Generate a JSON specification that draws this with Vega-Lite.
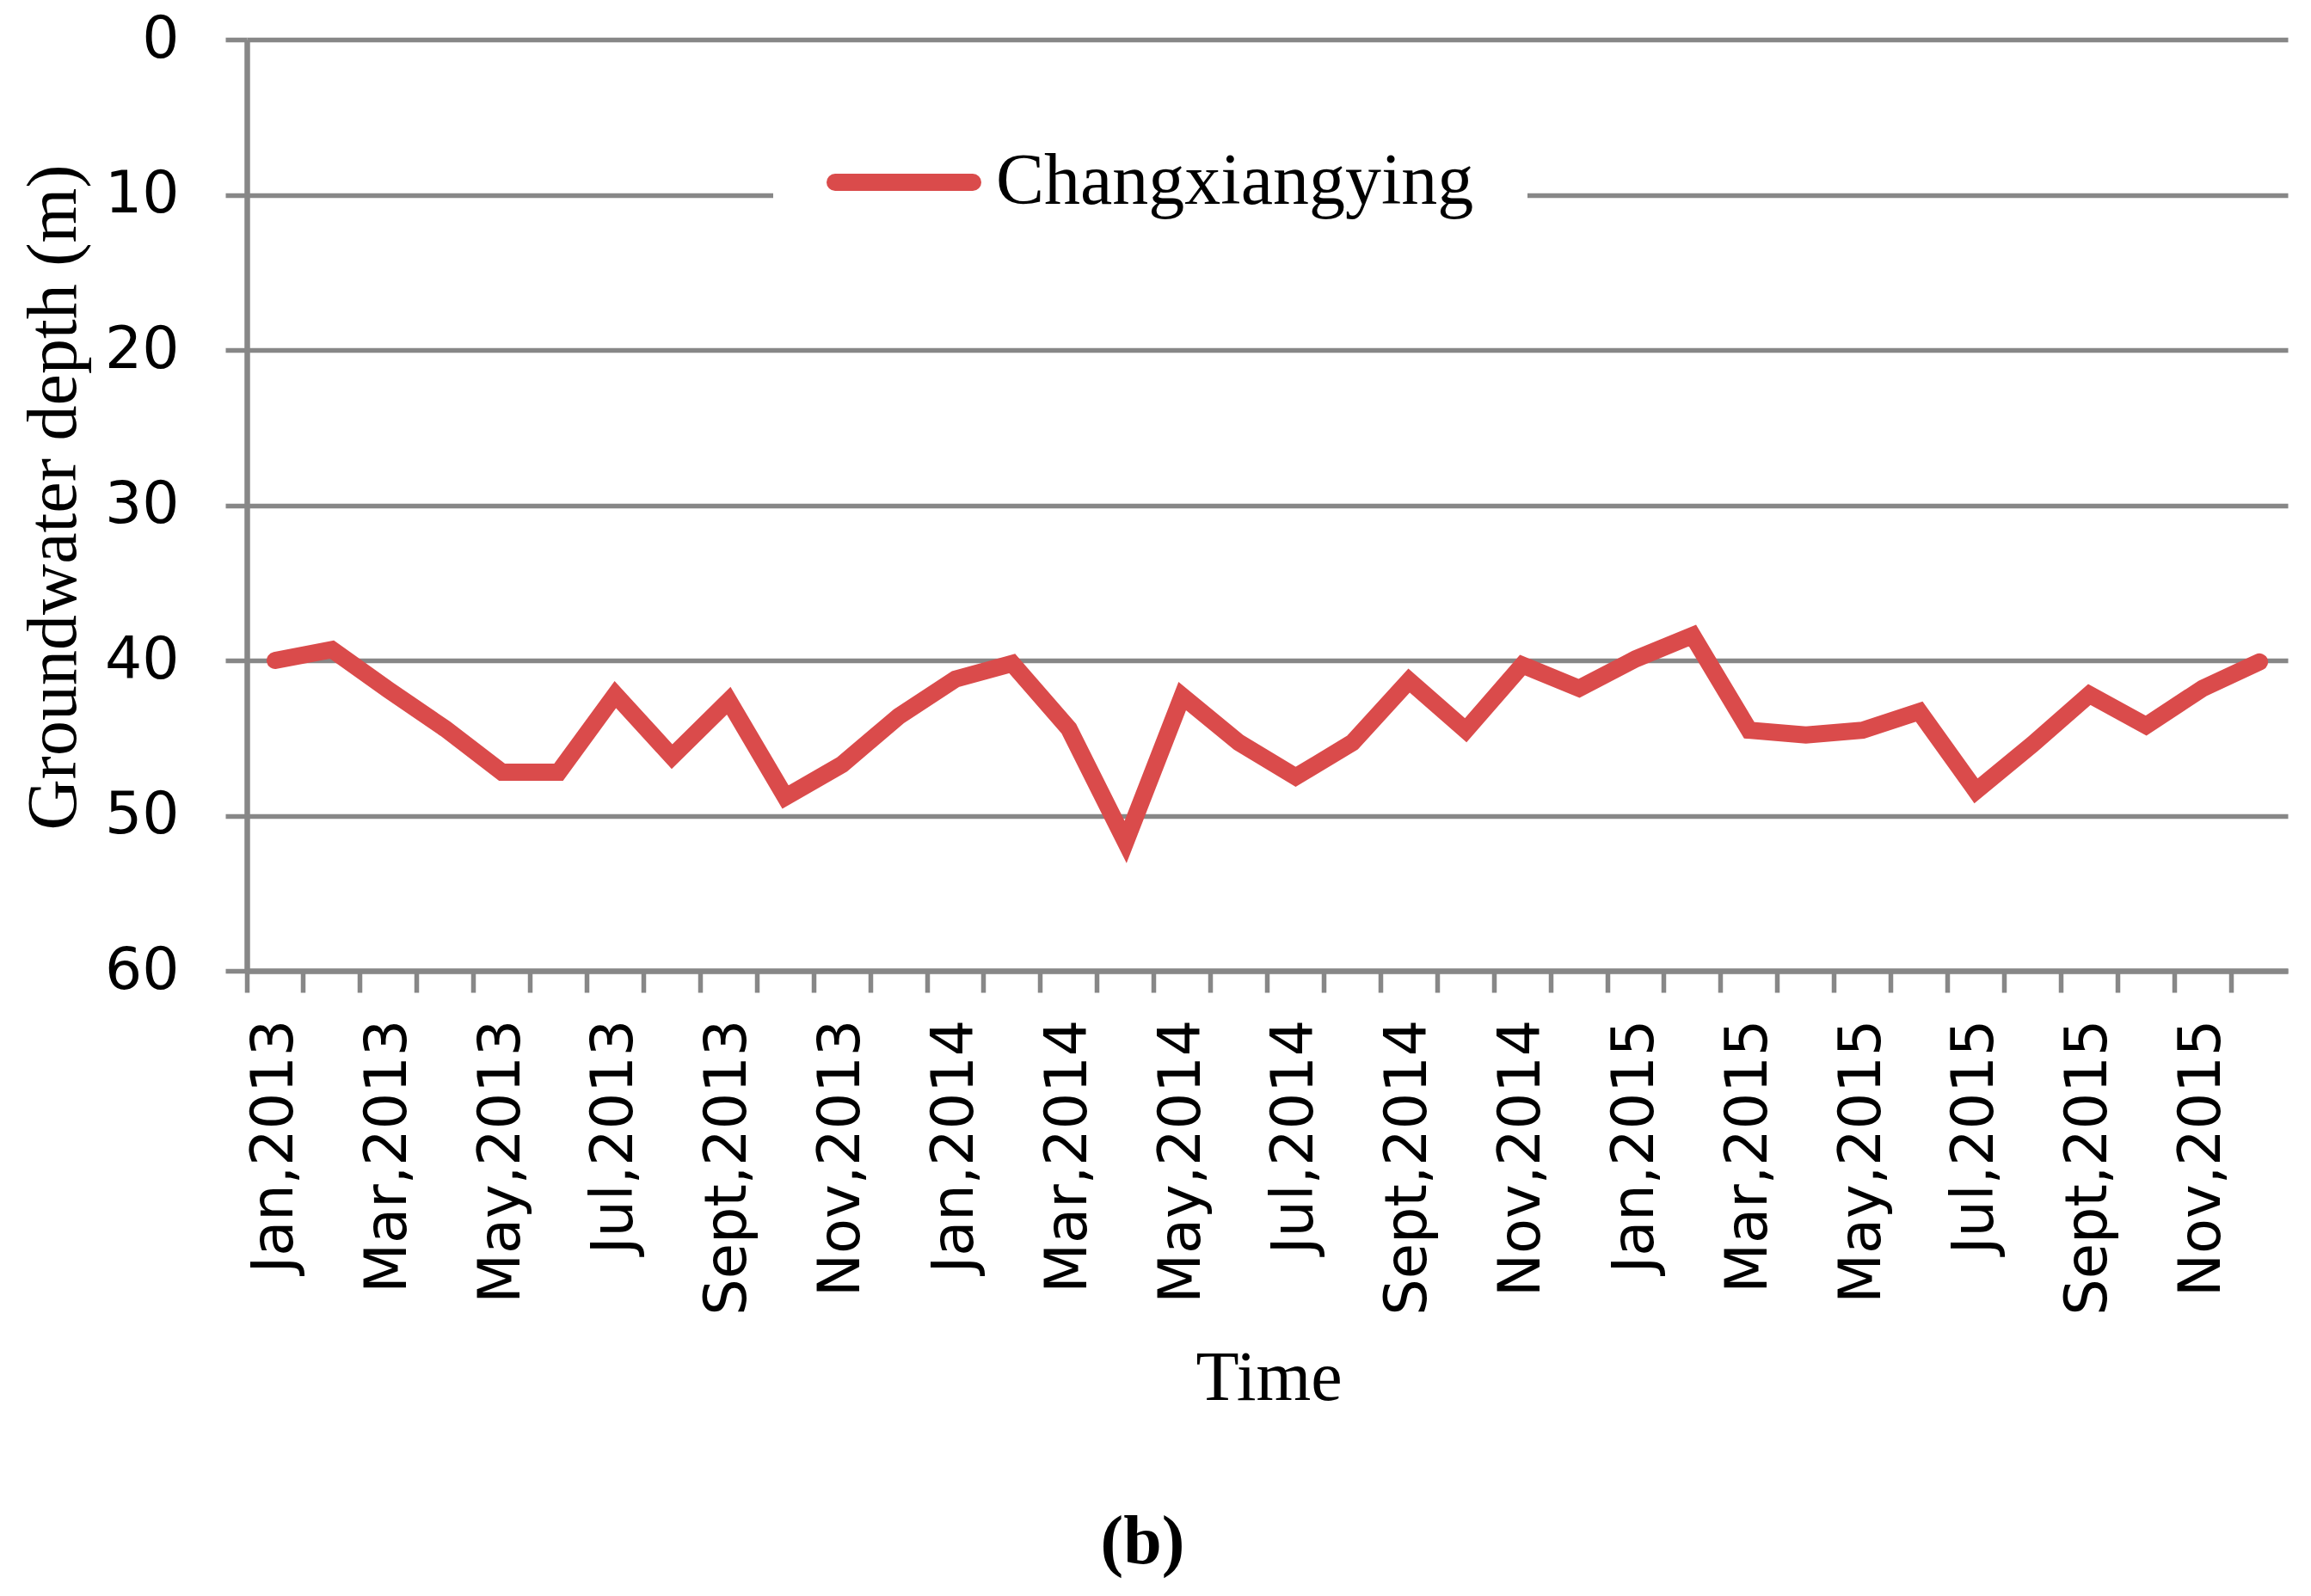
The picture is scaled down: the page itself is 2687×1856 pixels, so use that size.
{
  "$schema": "https://vega.github.io/schema/vega-lite/v6.json",
  "width": 2373,
  "height": 1083,
  "autosize": {"type": "none"},
  "padding": {"left": 287, "top": 46, "right": 27, "bottom": 727},
  "background": "white",
  "view": {"stroke": null},
  "title": {
    "text": "(b)",
    "orient": "bottom",
    "anchor": "middle",
    "font": "Liberation Serif",
    "fontSize": 80,
    "fontWeight": "bold",
    "color": "black",
    "dx": -145,
    "offset": 112
  },
  "data": {
    "values": [
      {"month": "Jan,2013", "depth": 40.0, "station": "Changxiangying"},
      {"month": "Feb,2013", "depth": 39.3, "station": "Changxiangying"},
      {"month": "Mar,2013", "depth": 41.9, "station": "Changxiangying"},
      {"month": "Apr,2013", "depth": 44.4, "station": "Changxiangying"},
      {"month": "May,2013", "depth": 47.2, "station": "Changxiangying"},
      {"month": "Jun,2013", "depth": 47.2, "station": "Changxiangying"},
      {"month": "Jul,2013", "depth": 42.2, "station": "Changxiangying"},
      {"month": "Aug,2013", "depth": 46.2, "station": "Changxiangying"},
      {"month": "Sept,2013", "depth": 42.6, "station": "Changxiangying"},
      {"month": "Oct,2013", "depth": 48.8, "station": "Changxiangying"},
      {"month": "Nov,2013", "depth": 46.7, "station": "Changxiangying"},
      {"month": "Dec,2013", "depth": 43.6, "station": "Changxiangying"},
      {"month": "Jan,2014", "depth": 41.2, "station": "Changxiangying"},
      {"month": "Feb,2014", "depth": 40.2, "station": "Changxiangying"},
      {"month": "Mar,2014", "depth": 44.4, "station": "Changxiangying"},
      {"month": "Apr,2014", "depth": 51.7, "station": "Changxiangying"},
      {"month": "May,2014", "depth": 42.3, "station": "Changxiangying"},
      {"month": "Jun,2014", "depth": 45.3, "station": "Changxiangying"},
      {"month": "Jul,2014", "depth": 47.5, "station": "Changxiangying"},
      {"month": "Aug,2014", "depth": 45.3, "station": "Changxiangying"},
      {"month": "Sept,2014", "depth": 41.3, "station": "Changxiangying"},
      {"month": "Oct,2014", "depth": 44.5, "station": "Changxiangying"},
      {"month": "Nov,2014", "depth": 40.3, "station": "Changxiangying"},
      {"month": "Dec,2014", "depth": 41.8, "station": "Changxiangying"},
      {"month": "Jan,2015", "depth": 39.9, "station": "Changxiangying"},
      {"month": "Feb,2015", "depth": 38.4, "station": "Changxiangying"},
      {"month": "Mar,2015", "depth": 44.5, "station": "Changxiangying"},
      {"month": "Apr,2015", "depth": 44.8, "station": "Changxiangying"},
      {"month": "May,2015", "depth": 44.5, "station": "Changxiangying"},
      {"month": "Jun,2015", "depth": 43.3, "station": "Changxiangying"},
      {"month": "Jul,2015", "depth": 48.4, "station": "Changxiangying"},
      {"month": "Aug,2015", "depth": 45.4, "station": "Changxiangying"},
      {"month": "Sept,2015", "depth": 42.2, "station": "Changxiangying"},
      {"month": "Oct,2015", "depth": 44.2, "station": "Changxiangying"},
      {"month": "Nov,2015", "depth": 41.8, "station": "Changxiangying"},
      {"month": "Dec,2015", "depth": 40.1, "station": "Changxiangying"}
    ]
  },
  "mark": {"type": "line", "strokeWidth": 20, "strokeCap": "round", "strokeJoin": "miter"},
  "encoding": {
    "x": {
      "field": "month",
      "type": "ordinal",
      "sort": null,
      "bandPosition": 0.5,
      "scale": {"type": "band", "paddingInner": 0, "paddingOuter": 0},
      "axis": {
        "title": "Time",
        "titleFont": "Liberation Serif",
        "titleFontSize": 82,
        "titleFontWeight": "normal",
        "titleColor": "black",
        "titleBaseline": "alphabetic",
        "titleAlign": "center",
        "titleX": 1188,
        "titleY": 498,
        "bandPosition": 0,
        "labelOffset": 0,
        "labelAngle": 270,
        "labelFont": "DejaVu Sans",
        "labelFontSize": 67,
        "labelColor": "black",
        "labelPadding": 31,
        "labelOverlap": false,
        "labelBound": false,
        "labelLimit": 0,
        "labelExpr": "test(/^(Jan|Mar|May|Jul|Sept|Nov),/, datum.label) ? datum.label : ''",
        "tickSize": 25,
        "tickWidth": 5.5,
        "tickColor": "#878787",
        "domainColor": "#878787",
        "domainWidth": 6.5,
        "grid": false
      }
    },
    "y": {
      "field": "depth",
      "type": "quantitative",
      "scale": {"domain": [0, 60], "reverse": true, "nice": false, "zero": false},
      "axis": {
        "title": "Groundwater depth (m)",
        "titleFont": "Liberation Serif",
        "titleFontSize": 82,
        "titleFontWeight": "normal",
        "titleColor": "black",
        "titleAngle": 270,
        "titleAlign": "center",
        "titleBaseline": "middle",
        "titleX": -225,
        "titleY": 532,
        "values": [0, 10, 20, 30, 40, 50, 60],
        "labelFont": "DejaVu Sans",
        "labelFontSize": 68,
        "labelColor": "black",
        "labelPadding": 54,
        "labelFlush": false,
        "labelOverlap": false,
        "tickSize": 25,
        "tickWidth": 5.5,
        "tickColor": "#878787",
        "domainColor": "#878787",
        "domainWidth": 6.5,
        "grid": true,
        "gridColor": "#878787",
        "gridWidth": 5.5
      }
    },
    "color": {
      "field": "station",
      "type": "nominal",
      "scale": {"range": ["#DA4B4B"]},
      "legend": {
        "title": null,
        "orient": "none",
        "legendX": 612,
        "legendY": 14,
        "fillColor": "white",
        "padding": 62,
        "symbolType": "stroke",
        "symbolSize": 25600,
        "symbolStrokeWidth": 20,
        "labelFont": "Liberation Serif",
        "labelFontSize": 84,
        "labelColor": "black",
        "labelOffset": 17,
        "labelLimit": 0,
        "encode": {"symbols": {"update": {"strokeCap": {"value": "round"}}}}
      }
    }
  }
}
